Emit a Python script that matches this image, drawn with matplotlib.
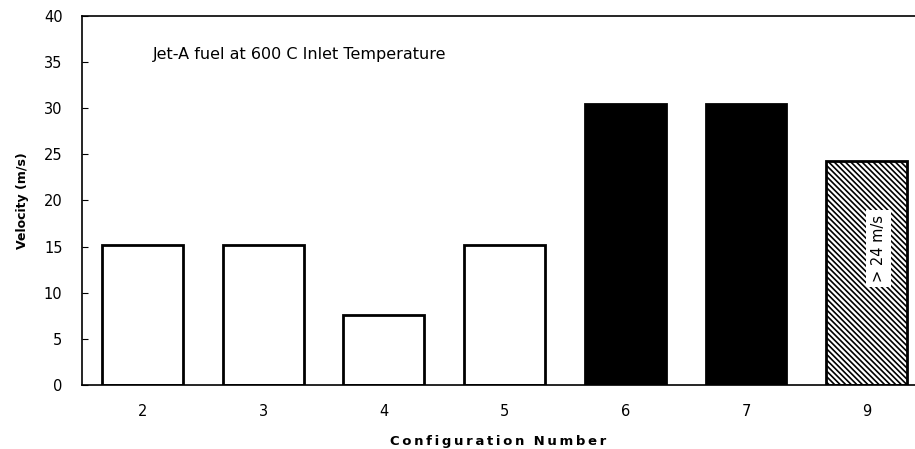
import matplotlib
matplotlib.use("Agg")
import matplotlib.pyplot as plt

categories = ["2", "3", "4", "5", "6", "7", "9"]
velocities = [15.2, 15.2, 7.6, 15.2, 30.5, 30.5, 24.3]
fills = ["white", "white", "white", "white", "black", "black", "white"]
hatches = ["", "", "", "", "", "", "\\\\\\\\\\\\"]
yticks = [0, 5, 10, 15, 20, 25, 30, 35, 40]

plt.rcParams['hatch.linewidth'] = 1.2
fig = plt.figure(figsize=(9.15, 4.49), dpi=100)
ax = fig.add_axes([0.0896, 0.1425, 0.9104, 0.822])

x = list(range(len(categories)))
for xi, v, fc, h in zip(x, velocities, fills, hatches):
    ax.bar(xi, v, width=0.67, color=fc, edgecolor="black", linewidth=2, hatch=h, zorder=2)

ax.text(x[-1] + 0.1, 14.8, "> 24 m/s", rotation=90, ha="center", va="center", fontsize=10.5,
        bbox=dict(facecolor="white", edgecolor="none", pad=3.5), zorder=3)
ax.text(0.09, 35.8, "Jet-A fuel at 600 C Inlet Temperature", fontsize=11.5, va="center", ha="left")

ax.set_xlim(-0.5, 6.4)
ax.set_ylim(0, 40)
ax.set_xticks(x)
ax.set_xticklabels(categories, fontsize=10.5)
ax.set_yticks(yticks)
ax.set_yticklabels([str(t) for t in yticks], fontsize=10.5)
ax.tick_params(axis="x", length=0, pad=14)
ax.tick_params(axis="y", direction="in", length=4, pad=14)
ax.spines["right"].set_visible(False)
for s in ["left", "bottom", "top"]:
    ax.spines[s].set_linewidth(1.2)
ax.set_ylabel("Velocity (m/s)", fontsize=9, fontweight="bold", labelpad=11)
xlabel = "\u2009".join("Configuration") + "  " + "\u2009".join("Number")
ax.set_xlabel(xlabel, fontsize=9.5, fontweight="bold", labelpad=11)
fig.savefig("out.png", dpi=100)
